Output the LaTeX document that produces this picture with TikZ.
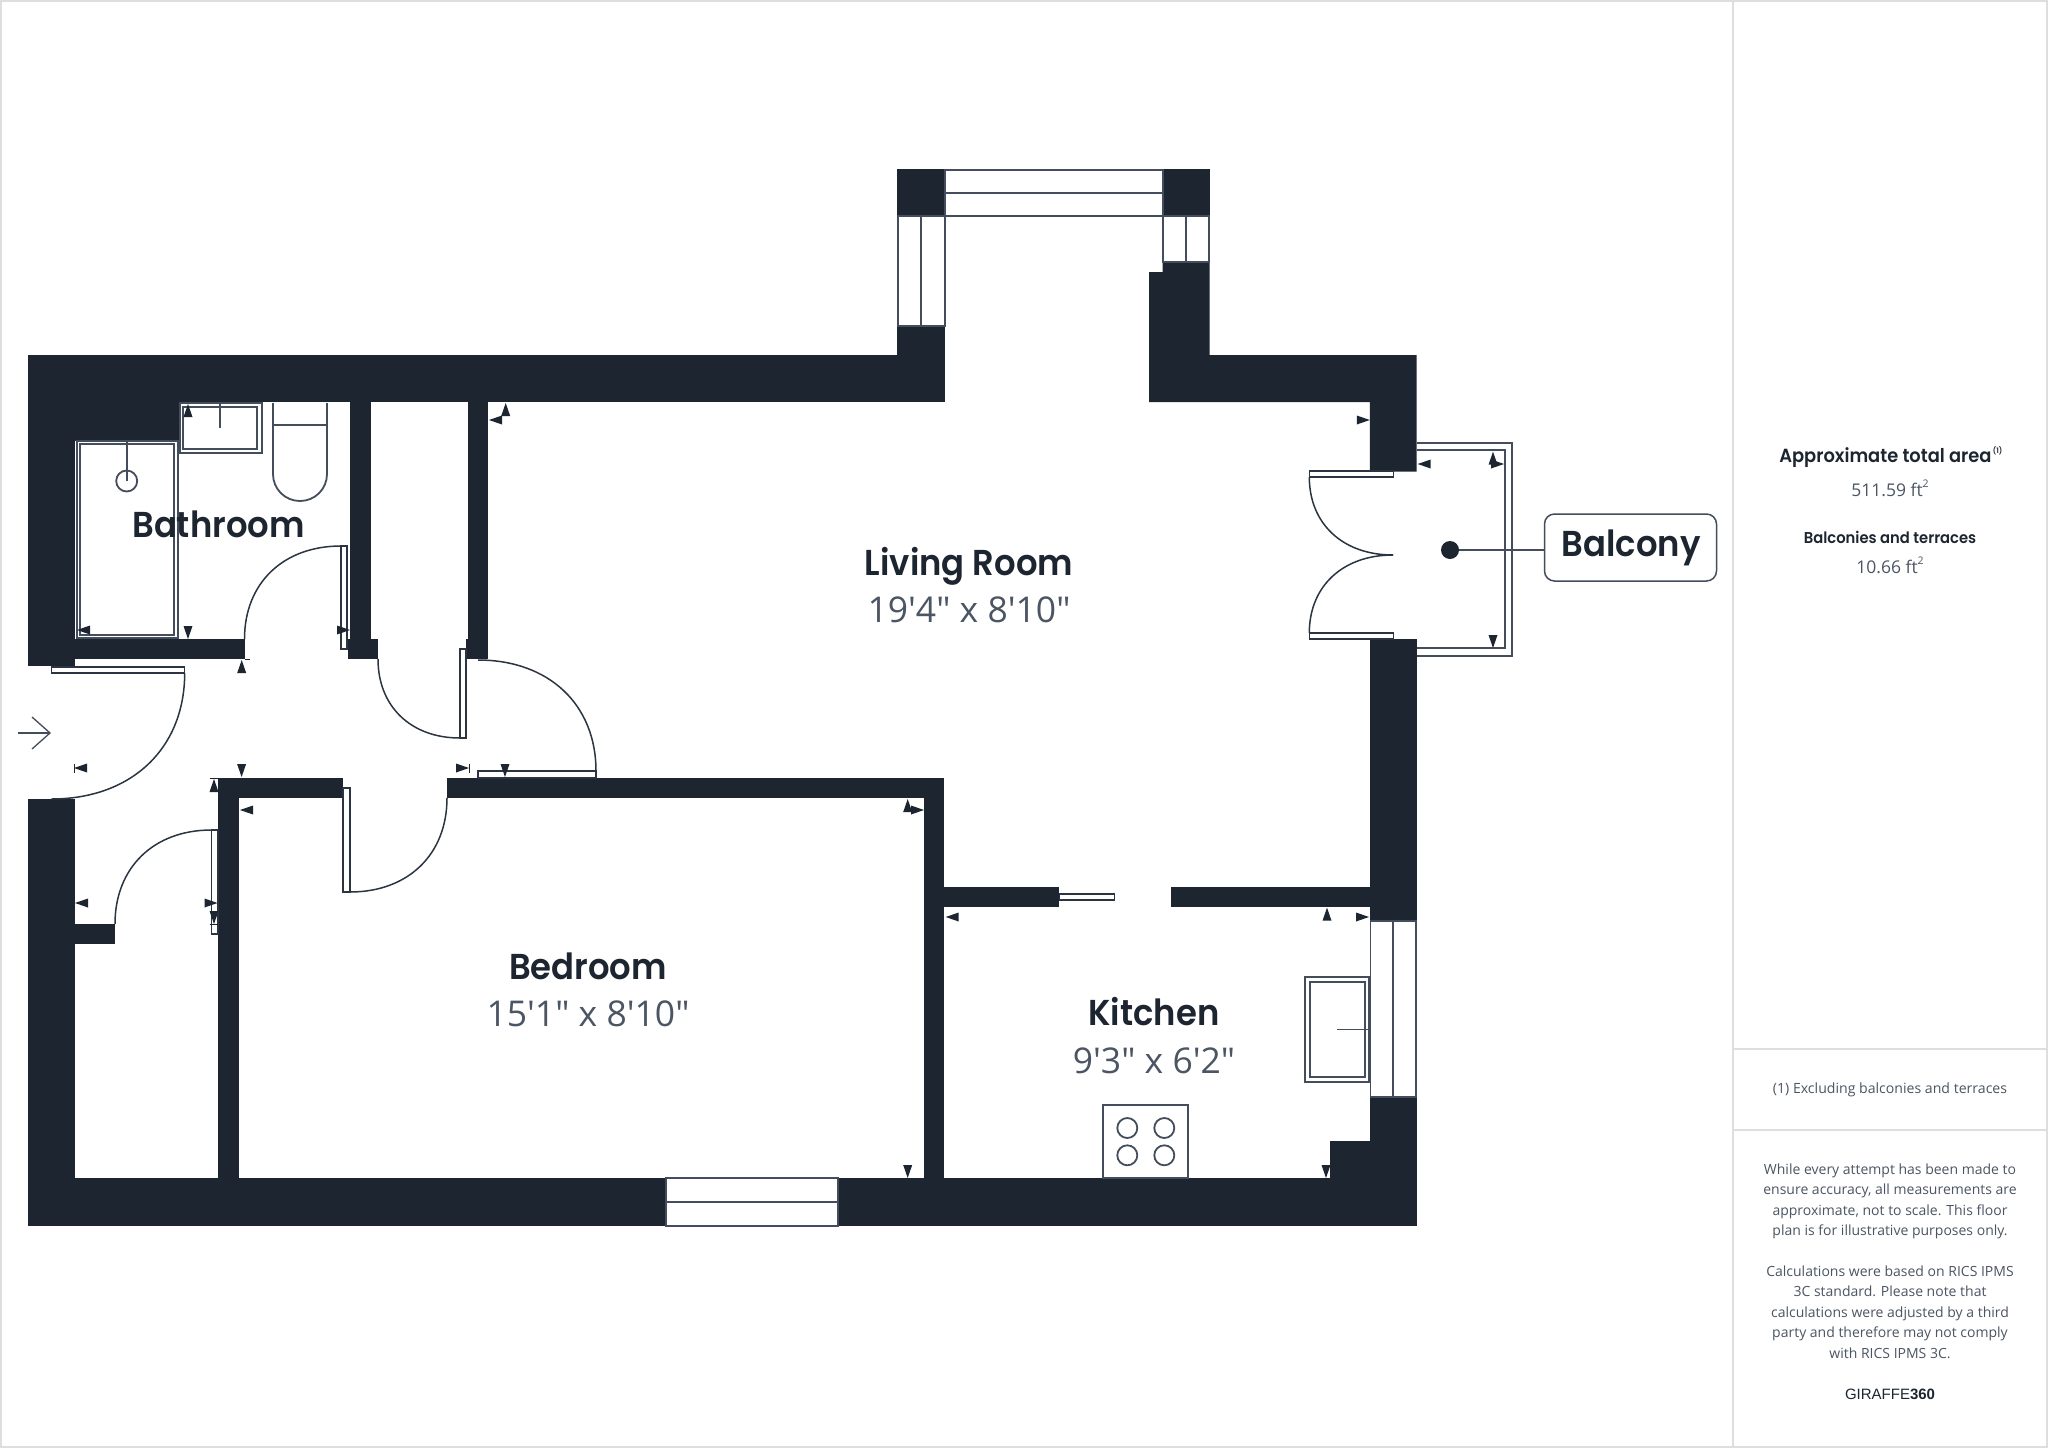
\documentclass[tikz,border=0pt]{standalone}
\usepackage{fontspec}
\setmainfont{Open Sans}
\newfontfamily\bodyfont{Open Sans}
\newfontfamily\hdfont[FakeStretch=0.94]{Poppins SemiBold}
\newfontfamily\brandfont{Liberation Sans}
\definecolor{wallc}{HTML}{1C2530}
\definecolor{linec}{HTML}{434D5B}
\definecolor{doorc}{HTML}{2B3542}
\definecolor{greyt}{HTML}{4B5563}
\definecolor{rulec}{HTML}{DEDEDE}
\tikzset{
 wall/.style={fill=wallc,draw=none},
 win/.style={fill=white,draw=linec,line width=1.8pt},
 fixture/.style={draw=linec,line width=1.8pt},
 leaf/.style={fill=white,draw=doorc,line width=1.4pt},
 swing/.style={draw=doorc,line width=1.5pt},
 tick/.style={draw=wallc,line width=1pt},
 room/.style={anchor=base,text=wallc,font=\hdfont\fontsize{36}{36}\selectfont},
 dims/.style={anchor=base,text=greyt,font=\bodyfont\fontsize{35.5}{36}\selectfont},
 panel/.style={anchor=base,text=greyt,align=center},
 rulel/.style={draw=rulec,line width=2pt},
}
% triangles: tip position given
\newcommand{\triU}[2]{\fill[wallc] (#1,#2) -- (#1-4.5,#2+13) -- (#1+4.5,#2+13) -- cycle;}
\newcommand{\triD}[2]{\fill[wallc] (#1,#2) -- (#1-4.5,#2-13) -- (#1+4.5,#2-13) -- cycle;}
\newcommand{\triL}[2]{\fill[wallc] (#1,#2) -- (#1+13,#2-4.5) -- (#1+13,#2+4.5) -- cycle;}
\newcommand{\triR}[2]{\fill[wallc] (#1,#2) -- (#1-13,#2-4.5) -- (#1-13,#2+4.5) -- cycle;}
% quarter curve: vertical tangent at the start, horizontal at the end
\newcommand{\qcurve}[4]{\draw[swing] (#1,#2) .. controls ({#1},{#2+.6*(#4-#2)}) and ({#3+.6*(#1-#3)},{#4}) .. (#3,#4);}
\newcommand{\wbox}[4]{\fill[wall] (#1,#2) rectangle (#3,#4);}
\newcommand{\ftsq}{ft\raisebox{8.5pt}{\fontsize{10.5}{10.5}\selectfont 2}}
\begin{document}
\begin{tikzpicture}[x=1pt,y=-1pt]
\useasboundingbox (0,0) rectangle (2048,1448);
\fill[white] (0,0) rectangle (2048,1448);
% frame and panel rules
\draw[rulel] (1,1) rectangle (2047,1447);
\draw[rulel] (1733,1) -- (1733,1447);
\draw[rulel] (1733,1048.5) -- (2047,1048.5);
\draw[rulel] (1733,1129.5) -- (2047,1129.5);
% walls
\wbox{28}{355}{944.7}{402}
\wbox{897.4}{326}{944.7}{355}
\wbox{897.4}{169}{944.7}{216}
\wbox{1162.6}{169}{1209.6}{216}
\fill[wall] (1162.6,262) -- (1209.6,262) -- (1209.6,355) -- (1416.7,355) -- (1416.7,471.5) -- (1369.8,471.5) -- (1369.8,402) -- (1149,402) -- (1149,272) -- (1162.6,272) -- cycle;
\wbox{28}{402}{75}{666}
\wbox{75}{402}{180}{441}
\wbox{75}{639}{245}{659}
\wbox{350}{402}{371}{639}
\wbox{348}{639}{378}{659}
\wbox{468}{402}{488}{659}
\wbox{466}{639}{468}{659}
\wbox{28}{799}{75}{1225.7}
\wbox{28}{1178.3}{666}{1225.7}
\wbox{838}{1178.3}{1416.7}{1225.7}
\wbox{75}{924}{115}{944}
\wbox{218}{778}{343}{798}
\wbox{218}{778}{239}{1178.3}
\wbox{447}{778}{944}{798}
\wbox{924}{778}{944}{1178.3}
\wbox{944}{887}{1059.4}{907}
\wbox{1171}{887}{1370}{907}
\wbox{1369.8}{639.3}{1416.7}{921}
\wbox{1369.8}{1097.3}{1416.7}{1225.7}
\wbox{1330.3}{1141.3}{1370}{1178.3}
% windows
\draw[win] (944.7,170) rectangle (1162.6,216);
\draw[fixture] (944.7,192.7) -- (1162.6,192.7);
\draw[win] (898,216) rectangle (944.7,325.7);
\draw[fixture] (921,216) -- (921,325.7);
\draw[win] (1162.6,216) rectangle (1209,262);
\draw[fixture] (1186,216) -- (1186,262);
\draw[win] (1370.5,921) rectangle (1416,1097.3);
\draw[fixture] (1393,921) -- (1393,1097.3);
\draw[win] (666,1178.3) rectangle (838,1225.7);
\draw[fixture] (666,1201.7) -- (838,1201.7);
% balcony
\draw[fixture] (1416.7,443) -- (1512,443) -- (1512,655.7) -- (1416.7,655.7);
\draw[fixture] (1416.7,450) -- (1504.7,450) -- (1504.7,648) -- (1416.7,648);
% shower
\draw[fixture,fill=white] (77,441) rectangle (178,638);
\draw[fixture] (80,444) rectangle (174,635);
\draw[fixture] (126.7,441) -- (126.7,481);
\draw[fixture] (126.7,481) circle[radius=10.5];
% bath sink
\draw[fixture,fill=white] (180,403) rectangle (262,453);
\draw[fixture] (183,407) rectangle (257,449);
\draw[fixture] (220,403) -- (220,428);
% toilet
\draw[fixture] (273,403) -- (273,474) .. controls (273,489) and (285,501) .. (300,501) .. controls (315,501) and (327,489) .. (327,474) -- (327,403);
\draw[fixture] (273,425) -- (327,425);
% kitchen sink
\draw[fixture,fill=white] (1305.3,977.3) rectangle (1369,1082.3);
\draw[fixture] (1310,982) rectangle (1365,1077);
\draw[fixture] (1337,1029.5) -- (1369,1029.5);
% hob
\draw[fixture,fill=white] (1103.3,1105) rectangle (1188.3,1178.3);
\draw[fixture] (1127.3,1128) circle[radius=10];
\draw[fixture] (1164.3,1128) circle[radius=10];
\draw[fixture] (1127.3,1155.3) circle[radius=10];
\draw[fixture] (1164.3,1155.3) circle[radius=10];
% door leaves and swings
\draw[leaf] (51.4,667) rectangle (184.7,673);
\qcurve{184.7}{673}{51.4}{799}
\draw[leaf] (343,788) rectangle (350,892);
\qcurve{447}{798}{350}{892}
\draw[leaf] (478,771) rectangle (596,778);
\qcurve{596}{771}{478}{660}
\draw[leaf] (460,649) rectangle (466,738);
\qcurve{378}{659}{460}{738}
\draw[leaf] (341,546) rectangle (347,649);
\qcurve{244.5}{639}{341}{546}
\draw[leaf] (211.5,830) rectangle (218,934);
\qcurve{115}{924}{211.5}{830}
\draw[leaf] (1309.3,471) rectangle (1393.3,477);
\qcurve{1309.3}{477}{1393}{555}
\draw[leaf] (1309.3,633) rectangle (1393.3,639);
\qcurve{1309.3}{633}{1393}{555}
\draw[leaf] (1059.4,894) rectangle (1114.5,900);
% entrance arrow
\draw[draw=linec,line width=1.3pt] (18,733) -- (50,733);
\draw[draw=linec,line width=1.3pt] (32,717) -- (50,733) -- (32,749);
% ticks
\draw[tick] (74,763.5) -- (74,773);
\draw[tick] (469,763.5) -- (469,773);
\draw[tick] (209.6,778) -- (218,778);
\draw[tick] (209.6,924.5) -- (218,924.5);
\draw[tick] (245,659) -- (250,659);
% marker triangles
\triU{188}{404}
\triL{77}{630}
\triD{188}{639}
\triR{350}{630}
\triU{241.7}{660}
\triU{505.7}{403}
\triL{489}{420}
\triL{74}{768}
\triR{469}{768}
\triD{241.6}{777}
\triD{505}{777}
\triU{214}{779}
\triL{240}{810}
\triL{75}{903}
\triR{217.5}{903}
\triD{214}{924}
\triU{907.7}{799}
\triR{924}{810}
\triD{907.7}{1178}
\triL{945.7}{917}
\triU{1327}{907.7}
\triR{1369}{917}
\triD{1326}{1178}
\triR{1369.8}{420}
\triL{1417.7}{464}
\triU{1493}{451.7}
\triR{1504}{464}
\triD{1493}{648}
% balcony callout
\node[circle,fill=wallc,minimum size=18pt,inner sep=0pt] (balconydot) at (1450,550) {};
\node[draw=linec,line width=1.5pt,rounded corners=10pt,fill=white,minimum width=172pt,minimum height=67pt,inner sep=0pt] (balconybox) at (1630.5,547.5) {};
\draw[fixture] (balconydot.east) -- (balconydot.east -| balconybox.west);
\node[room] (balconytxt) at (1631,556.7) {Balcony};
% room labels
\node[room] (bathlabel) at (218.5,537) {Bathroom};
\node[room] (livinglabel) at (969,575) {Living Room};
\node[dims] (livingdims) at (969,622.5) {19'4" x 8'10"};
\node[room] (bedlabel) at (588,979) {Bedroom};
\node[dims] (beddims) at (588,1026) {15'1" x 8'10"};
\node[room] (kitlabel) at (1154,1025.7) {Kitchen};
\node[dims] (kitdims) at (1154,1073) {9'3" x 6'2"};
% side panel
\node[anchor=base,text=wallc,inner sep=0pt,font=\hdfont\fontsize{19}{19}\selectfont] (areahead) at (1885.4,462.3) {Approximate total area};
\node[anchor=base west,text=wallc,font=\hdfont\fontsize{7.5}{8}\selectfont,inner sep=0pt,xshift=1pt,yshift=9pt] (areanote) at (areahead.base east) {(1)};
\node[panel,font=\bodyfont\fontsize{17.5}{17.5}\selectfont] (areaval) at (1890,496) {511.59 \ftsq};
\node[anchor=base,text=wallc,font=\hdfont\fontsize{15.7}{16}\selectfont] (balchead) at (1890,543) {Balconies and terraces};
\node[panel,font=\bodyfont\fontsize{17.5}{17.5}\selectfont] (balcval) at (1890,573.3) {10.66 \ftsq};
\node[panel,font=\bodyfont\fontsize{14.1}{14.1}\selectfont] (note) at (1890,1093) {(1) Excluding balconies and terraces};
\node[panel,font=\bodyfont\fontsize{14}{20.44}\selectfont] (disc) at (1890,1358.3) {While every attempt has been made to\\ensure accuracy, all measurements are\\approximate, not to scale. This floor\\plan is for illustrative purposes only.\\[20.44pt]Calculations were based on RICS IPMS\\3C standard. Please note that\\calculations were adjusted by a third\\party and therefore may not comply\\with RICS IPMS 3C.};
\node[anchor=base,text=wallc,font=\fontsize{15}{15}\selectfont] (brand) at (1890,1399) {\brandfont GIRAFFE\textbf{360}};
\end{tikzpicture}
\end{document}
